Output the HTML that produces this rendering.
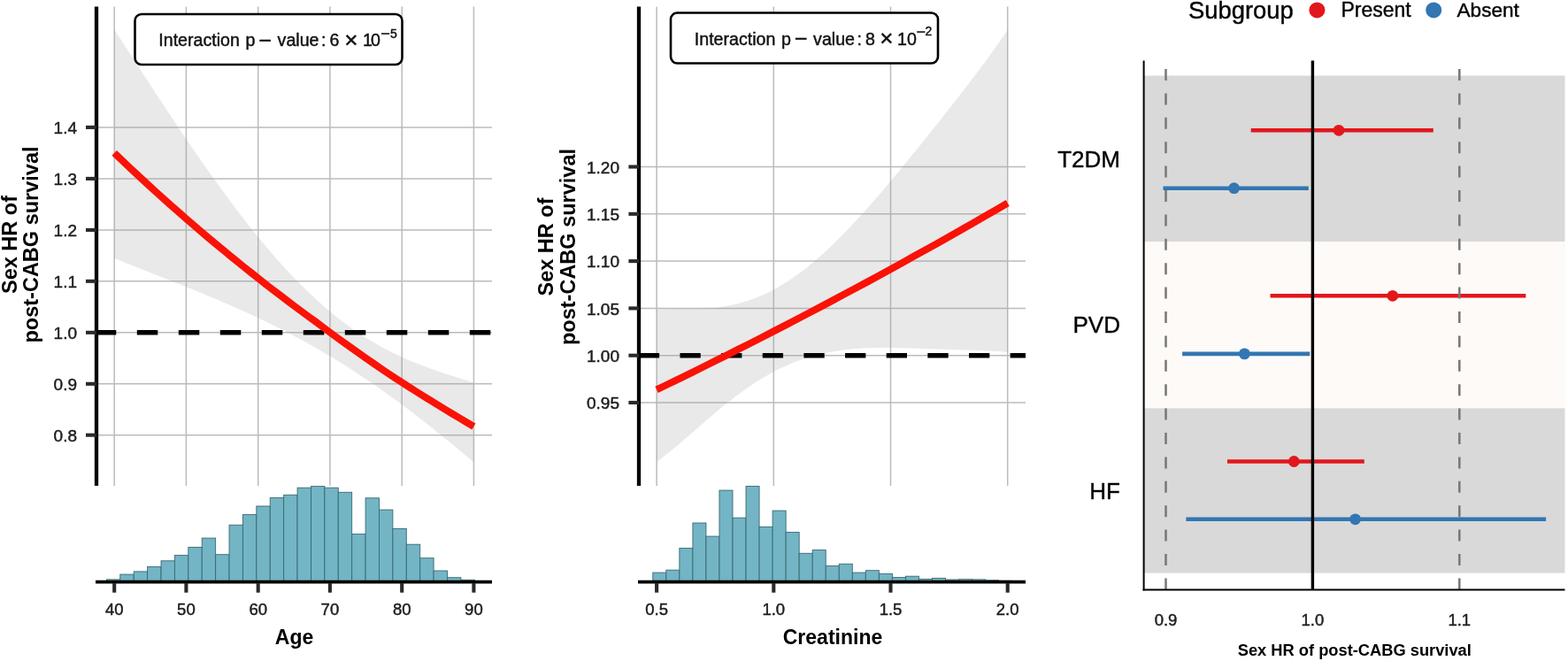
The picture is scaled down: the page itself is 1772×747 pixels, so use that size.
<!DOCTYPE html>
<html><head><meta charset="utf-8"><title>Sex HR of post-CABG survival</title>
<style>html,body{margin:0;padding:0;background:#fff;} svg{display:block;} svg text:not([font-weight]){stroke:#141414;stroke-width:0.45px;stroke-linejoin:round;}</style></head>
<body><svg width="1772" height="747" viewBox="0 0 1772 747" style="font-family:'Liberation Sans',Arial,sans-serif">
<rect width="1772" height="747" fill="#fff"/>
<line x1="129.2" y1="7.5" x2="129.2" y2="549" stroke="#BBBBBB" stroke-width="1.5"/>
<line x1="210.4" y1="7.5" x2="210.4" y2="549" stroke="#BBBBBB" stroke-width="1.5"/>
<line x1="291.7" y1="7.5" x2="291.7" y2="549" stroke="#BBBBBB" stroke-width="1.5"/>
<line x1="372.9" y1="7.5" x2="372.9" y2="549" stroke="#BBBBBB" stroke-width="1.5"/>
<line x1="454.2" y1="7.5" x2="454.2" y2="549" stroke="#BBBBBB" stroke-width="1.5"/>
<line x1="535.4" y1="7.5" x2="535.4" y2="549" stroke="#BBBBBB" stroke-width="1.5"/>
<line x1="109" y1="491.7" x2="556" y2="491.7" stroke="#BBBBBB" stroke-width="1.5"/>
<line x1="109" y1="433.8" x2="556" y2="433.8" stroke="#BBBBBB" stroke-width="1.5"/>
<line x1="109" y1="375.8" x2="556" y2="375.8" stroke="#BBBBBB" stroke-width="1.5"/>
<line x1="109" y1="317.8" x2="556" y2="317.8" stroke="#BBBBBB" stroke-width="1.5"/>
<line x1="109" y1="259.9" x2="556" y2="259.9" stroke="#BBBBBB" stroke-width="1.5"/>
<line x1="109" y1="201.9" x2="556" y2="201.9" stroke="#BBBBBB" stroke-width="1.5"/>
<line x1="109" y1="143.9" x2="556" y2="143.9" stroke="#BBBBBB" stroke-width="1.5"/>
<path d="M129.2,33.3 L132.2,37.9 L135.2,42.6 L138.2,47.2 L141.2,51.9 L144.2,56.6 L147.3,61.2 L150.3,65.8 L153.3,70.5 L156.3,75.1 L159.3,79.8 L162.3,84.4 L165.3,89.0 L168.3,93.6 L171.3,98.2 L174.3,102.8 L177.3,107.4 L180.4,112.0 L183.4,116.6 L186.4,121.1 L189.4,125.7 L192.4,130.2 L195.4,134.7 L198.4,139.2 L201.4,143.7 L204.4,148.2 L207.4,152.7 L210.4,157.1 L213.4,161.5 L216.5,165.9 L219.5,170.3 L222.5,174.7 L225.5,179.0 L228.5,183.4 L231.5,187.7 L234.5,192.0 L237.5,196.2 L240.5,200.4 L243.5,204.6 L246.5,208.8 L249.6,213.0 L252.6,217.1 L255.6,221.2 L258.6,225.3 L261.6,229.3 L264.6,233.3 L267.6,237.3 L270.6,241.2 L273.6,245.1 L276.6,249.0 L279.6,252.8 L282.7,256.7 L285.7,260.4 L288.7,264.2 L291.7,267.9 L294.7,271.5 L297.7,275.1 L300.7,278.7 L303.7,282.3 L306.7,285.8 L309.7,289.3 L312.7,292.7 L315.8,296.1 L318.8,299.4 L321.8,302.7 L324.8,306.0 L327.8,309.2 L330.8,312.4 L333.8,315.5 L336.8,318.6 L339.8,321.6 L342.8,324.6 L345.8,327.6 L348.8,330.5 L351.9,333.3 L354.9,336.1 L357.9,338.9 L360.9,341.6 L363.9,344.3 L366.9,346.9 L369.9,349.5 L372.9,352.0 L375.9,354.5 L378.9,357.0 L381.9,359.4 L385.0,361.7 L388.0,364.0 L391.0,366.3 L394.0,368.5 L397.0,370.6 L400.0,372.8 L403.0,374.8 L406.0,376.9 L409.0,378.8 L412.0,380.8 L415.0,382.7 L418.1,384.5 L421.1,386.3 L424.1,388.1 L427.1,389.8 L430.1,391.5 L433.1,393.1 L436.1,394.7 L439.1,396.3 L442.1,397.8 L445.1,399.3 L448.1,400.8 L451.2,402.2 L454.2,403.6 L457.2,404.9 L460.2,406.2 L463.2,407.5 L466.2,408.8 L469.2,410.0 L472.2,411.2 L475.2,412.3 L478.2,413.5 L481.2,414.6 L484.2,415.7 L487.3,416.8 L490.3,417.8 L493.3,418.9 L496.3,419.9 L499.3,420.9 L502.3,421.9 L505.3,422.9 L508.3,423.8 L511.3,424.8 L514.3,425.8 L517.3,426.7 L520.4,427.7 L523.4,428.7 L526.4,429.6 L529.4,430.6 L532.4,431.6 L535.4,432.5 L535.4,522.3 L532.4,519.7 L529.4,517.2 L526.4,514.7 L523.4,512.2 L520.4,509.7 L517.3,507.2 L514.3,504.7 L511.3,502.2 L508.3,499.8 L505.3,497.3 L502.3,494.9 L499.3,492.4 L496.3,490.0 L493.3,487.6 L490.3,485.2 L487.3,482.8 L484.2,480.4 L481.2,478.0 L478.2,475.7 L475.2,473.3 L472.2,471.0 L469.2,468.7 L466.2,466.3 L463.2,464.1 L460.2,461.8 L457.2,459.5 L454.2,457.3 L451.2,455.0 L448.1,452.8 L445.1,450.6 L442.1,448.4 L439.1,446.2 L436.1,444.1 L433.1,441.9 L430.1,439.8 L427.1,437.7 L424.1,435.6 L421.1,433.5 L418.1,431.5 L415.0,429.4 L412.0,427.4 L409.0,425.4 L406.0,423.4 L403.0,421.4 L400.0,419.4 L397.0,417.5 L394.0,415.6 L391.0,413.7 L388.0,411.8 L385.0,409.9 L381.9,408.0 L378.9,406.2 L375.9,404.3 L372.9,402.5 L369.9,400.7 L366.9,398.9 L363.9,397.2 L360.9,395.4 L357.9,393.7 L354.9,392.0 L351.9,390.3 L348.8,388.6 L345.8,386.9 L342.8,385.3 L339.8,383.6 L336.8,382.0 L333.8,380.4 L330.8,378.8 L327.8,377.2 L324.8,375.6 L321.8,374.1 L318.8,372.5 L315.8,371.0 L312.7,369.5 L309.7,368.0 L306.7,366.5 L303.7,365.0 L300.7,363.6 L297.7,362.1 L294.7,360.7 L291.7,359.3 L288.7,357.8 L285.7,356.4 L282.7,355.0 L279.6,353.7 L276.6,352.3 L273.6,350.9 L270.6,349.6 L267.6,348.2 L264.6,346.9 L261.6,345.6 L258.6,344.3 L255.6,343.0 L252.6,341.7 L249.6,340.4 L246.5,339.1 L243.5,337.8 L240.5,336.6 L237.5,335.3 L234.5,334.0 L231.5,332.8 L228.5,331.6 L225.5,330.3 L222.5,329.1 L219.5,327.9 L216.5,326.6 L213.4,325.4 L210.4,324.2 L207.4,323.0 L204.4,321.8 L201.4,320.6 L198.4,319.4 L195.4,318.2 L192.4,317.0 L189.4,315.8 L186.4,314.6 L183.4,313.4 L180.4,312.2 L177.3,311.0 L174.3,309.9 L171.3,308.7 L168.3,307.5 L165.3,306.3 L162.3,305.1 L159.3,303.9 L156.3,302.7 L153.3,301.5 L150.3,300.3 L147.3,299.1 L144.2,297.9 L141.2,296.7 L138.2,295.5 L135.2,294.2 L132.2,293.0 L129.2,291.8 Z" fill="#9a9a9a" fill-opacity="0.22"/>
<line x1="107.8" y1="375.8" x2="556" y2="375.8" stroke="#000" stroke-width="5.5" stroke-dasharray="23.5 23.5"/>
<polyline points="129.2,172.9 137.3,180.7 145.4,188.4 153.6,196.0 161.7,203.5 169.8,211.0 177.9,218.4 186.1,225.7 194.2,232.9 202.3,240.1 210.4,247.2 218.6,254.2 226.7,261.2 234.8,268.1 242.9,274.9 251.1,281.6 259.2,288.3 267.3,294.9 275.4,301.5 283.6,308.0 291.7,314.4 299.8,320.8 307.9,327.1 316.1,333.3 324.2,339.5 332.3,345.6 340.4,351.6 348.5,357.6 356.7,363.6 364.8,369.6 372.9,375.6 381.0,381.6 389.2,387.4 397.3,393.3 405.4,399.0 413.5,404.7 421.7,410.4 429.8,416.0 437.9,421.5 446.0,426.9 454.2,432.1 462.3,437.3 470.4,442.5 478.5,447.6 486.7,452.7 494.8,457.7 502.9,462.6 511.0,467.5 519.2,472.4 527.3,477.2 535.4,482.0" fill="none" stroke="#FA1206" stroke-width="8"/>
<line x1="109.0" y1="7.5" x2="109.0" y2="549" stroke="#000" stroke-width="4.3"/>
<line x1="97" y1="491.7" x2="109.0" y2="491.7" stroke="#2A2A2A" stroke-width="4.1"/>
<text x="87" y="498.8" text-anchor="end" font-size="19" fill="#1E1E1E">0.8</text>
<line x1="97" y1="433.8" x2="109.0" y2="433.8" stroke="#2A2A2A" stroke-width="4.1"/>
<text x="87" y="440.9" text-anchor="end" font-size="19" fill="#1E1E1E">0.9</text>
<line x1="97" y1="375.8" x2="109.0" y2="375.8" stroke="#2A2A2A" stroke-width="4.1"/>
<text x="87" y="382.9" text-anchor="end" font-size="19" fill="#1E1E1E">1.0</text>
<line x1="97" y1="317.8" x2="109.0" y2="317.8" stroke="#2A2A2A" stroke-width="4.1"/>
<text x="87" y="324.9" text-anchor="end" font-size="19" fill="#1E1E1E">1.1</text>
<line x1="97" y1="259.9" x2="109.0" y2="259.9" stroke="#2A2A2A" stroke-width="4.1"/>
<text x="87" y="267.0" text-anchor="end" font-size="19" fill="#1E1E1E">1.2</text>
<line x1="97" y1="201.9" x2="109.0" y2="201.9" stroke="#2A2A2A" stroke-width="4.1"/>
<text x="87" y="209.0" text-anchor="end" font-size="19" fill="#1E1E1E">1.3</text>
<line x1="97" y1="143.9" x2="109.0" y2="143.9" stroke="#2A2A2A" stroke-width="4.1"/>
<text x="87" y="151.0" text-anchor="end" font-size="19" fill="#1E1E1E">1.4</text>
<rect x="152.5" y="16" width="302" height="57" rx="7.5" ry="7.5" fill="#fff" stroke="#000" stroke-width="2.6"/>
<text x="179.3" y="52.0" font-size="19.6" fill="#111">Interaction</text>
<text x="277.4" y="52.0" font-size="19.6" fill="#111">p</text>
<text x="292.5" y="53.6" font-size="25" fill="#111">−</text>
<text x="313.6" y="52.0" font-size="19.6" fill="#111">value</text>
<text x="363.0" y="52.0" font-size="19.6" fill="#111">:</text>
<text x="372.4" y="52.0" font-size="19.6" fill="#111">6</text>
<text x="389.2" y="53.6" font-size="26" fill="#111">×</text>
<text x="410.0" y="52.0" font-size="19.6" fill="#111">1</text>
<text x="419.0" y="52.0" font-size="19.6" fill="#111">0</text>
<text x="430.2" y="44.0" font-size="18" fill="#111">−</text>
<text x="441.0" y="42.6" font-size="14" fill="#111">5</text>
<rect x="120.40" y="654.9" width="15.40" height="3.1" fill="#73B5C5" stroke="#3A6873" stroke-width="0.9"/>
<rect x="135.80" y="649.1" width="15.40" height="8.9" fill="#73B5C5" stroke="#3A6873" stroke-width="0.9"/>
<rect x="151.21" y="645.9" width="15.40" height="12.1" fill="#73B5C5" stroke="#3A6873" stroke-width="0.9"/>
<rect x="166.61" y="640.5" width="15.40" height="17.5" fill="#73B5C5" stroke="#3A6873" stroke-width="0.9"/>
<rect x="182.02" y="633.8" width="15.40" height="24.2" fill="#73B5C5" stroke="#3A6873" stroke-width="0.9"/>
<rect x="197.42" y="627.6" width="15.40" height="30.4" fill="#73B5C5" stroke="#3A6873" stroke-width="0.9"/>
<rect x="212.82" y="618.4" width="15.40" height="39.6" fill="#73B5C5" stroke="#3A6873" stroke-width="0.9"/>
<rect x="228.23" y="608.1" width="15.40" height="49.9" fill="#73B5C5" stroke="#3A6873" stroke-width="0.9"/>
<rect x="243.63" y="626.7" width="15.40" height="31.3" fill="#73B5C5" stroke="#3A6873" stroke-width="0.9"/>
<rect x="259.04" y="593.3" width="15.40" height="64.7" fill="#73B5C5" stroke="#3A6873" stroke-width="0.9"/>
<rect x="274.44" y="581.6" width="15.40" height="76.4" fill="#73B5C5" stroke="#3A6873" stroke-width="0.9"/>
<rect x="289.84" y="572.0" width="15.40" height="86.0" fill="#73B5C5" stroke="#3A6873" stroke-width="0.9"/>
<rect x="305.25" y="562.6" width="15.40" height="95.4" fill="#73B5C5" stroke="#3A6873" stroke-width="0.9"/>
<rect x="320.65" y="559.3" width="15.40" height="98.7" fill="#73B5C5" stroke="#3A6873" stroke-width="0.9"/>
<rect x="336.06" y="551.2" width="15.40" height="106.8" fill="#73B5C5" stroke="#3A6873" stroke-width="0.9"/>
<rect x="351.46" y="549.6" width="15.40" height="108.4" fill="#73B5C5" stroke="#3A6873" stroke-width="0.9"/>
<rect x="366.86" y="551.2" width="15.40" height="106.8" fill="#73B5C5" stroke="#3A6873" stroke-width="0.9"/>
<rect x="382.27" y="556.3" width="15.40" height="101.7" fill="#73B5C5" stroke="#3A6873" stroke-width="0.9"/>
<rect x="397.67" y="603.6" width="15.40" height="54.4" fill="#73B5C5" stroke="#3A6873" stroke-width="0.9"/>
<rect x="413.08" y="562.8" width="15.40" height="95.2" fill="#73B5C5" stroke="#3A6873" stroke-width="0.9"/>
<rect x="428.48" y="576.1" width="15.40" height="81.9" fill="#73B5C5" stroke="#3A6873" stroke-width="0.9"/>
<rect x="443.88" y="597.5" width="15.40" height="60.5" fill="#73B5C5" stroke="#3A6873" stroke-width="0.9"/>
<rect x="459.29" y="615.2" width="15.40" height="42.8" fill="#73B5C5" stroke="#3A6873" stroke-width="0.9"/>
<rect x="474.69" y="630.7" width="15.40" height="27.3" fill="#73B5C5" stroke="#3A6873" stroke-width="0.9"/>
<rect x="490.10" y="645.0" width="15.40" height="13.0" fill="#73B5C5" stroke="#3A6873" stroke-width="0.9"/>
<rect x="505.50" y="652.7" width="15.40" height="5.3" fill="#73B5C5" stroke="#3A6873" stroke-width="0.9"/>
<rect x="520.90" y="655.3" width="15.40" height="2.7" fill="#73B5C5" stroke="#3A6873" stroke-width="0.9"/>
<line x1="108.0" y1="657.7" x2="556" y2="657.7" stroke="#000" stroke-width="3.8"/>
<line x1="129.2" y1="659" x2="129.2" y2="669.7" stroke="#2A2A2A" stroke-width="4.1"/>
<text x="129.2" y="695" text-anchor="middle" font-size="18.5" fill="#1E1E1E">40</text>
<line x1="210.4" y1="659" x2="210.4" y2="669.7" stroke="#2A2A2A" stroke-width="4.1"/>
<text x="210.4" y="695" text-anchor="middle" font-size="18.5" fill="#1E1E1E">50</text>
<line x1="291.7" y1="659" x2="291.7" y2="669.7" stroke="#2A2A2A" stroke-width="4.1"/>
<text x="291.7" y="695" text-anchor="middle" font-size="18.5" fill="#1E1E1E">60</text>
<line x1="372.9" y1="659" x2="372.9" y2="669.7" stroke="#2A2A2A" stroke-width="4.1"/>
<text x="372.9" y="695" text-anchor="middle" font-size="18.5" fill="#1E1E1E">70</text>
<line x1="454.2" y1="659" x2="454.2" y2="669.7" stroke="#2A2A2A" stroke-width="4.1"/>
<text x="454.2" y="695" text-anchor="middle" font-size="18.5" fill="#1E1E1E">80</text>
<line x1="535.4" y1="659" x2="535.4" y2="669.7" stroke="#2A2A2A" stroke-width="4.1"/>
<text x="535.4" y="695" text-anchor="middle" font-size="18.5" fill="#1E1E1E">90</text>
<text x="332.5" y="727.5" text-anchor="middle" font-size="23" font-weight="bold" fill="#000">Age</text>
<text transform="translate(19,276.5) rotate(-90)" text-anchor="middle" font-size="23.5" font-weight="bold" fill="#000">Sex HR of</text>
<text transform="translate(43,276.5) rotate(-90)" text-anchor="middle" font-size="23.5" font-weight="bold" fill="#000">post-CABG survival</text>
<line x1="742.1" y1="7.4" x2="742.1" y2="549" stroke="#BBBBBB" stroke-width="1.5"/>
<line x1="874.3" y1="7.4" x2="874.3" y2="549" stroke="#BBBBBB" stroke-width="1.5"/>
<line x1="1006.5" y1="7.4" x2="1006.5" y2="549" stroke="#BBBBBB" stroke-width="1.5"/>
<line x1="1138.7" y1="7.4" x2="1138.7" y2="549" stroke="#BBBBBB" stroke-width="1.5"/>
<line x1="722" y1="455.0" x2="1159" y2="455.0" stroke="#BBBBBB" stroke-width="1.5"/>
<line x1="722" y1="401.7" x2="1159" y2="401.7" stroke="#BBBBBB" stroke-width="1.5"/>
<line x1="722" y1="348.4" x2="1159" y2="348.4" stroke="#BBBBBB" stroke-width="1.5"/>
<line x1="722" y1="295.1" x2="1159" y2="295.1" stroke="#BBBBBB" stroke-width="1.5"/>
<line x1="722" y1="241.8" x2="1159" y2="241.8" stroke="#BBBBBB" stroke-width="1.5"/>
<line x1="722" y1="188.5" x2="1159" y2="188.5" stroke="#BBBBBB" stroke-width="1.5"/>
<path d="M742.1,349.8 L745.1,349.6 L748.1,349.4 L751.1,349.3 L754.1,349.2 L757.1,349.2 L760.1,349.1 L763.1,349.1 L766.1,349.1 L769.1,349.1 L772.1,349.1 L775.1,349.1 L778.2,349.1 L781.2,349.1 L784.2,349.0 L787.2,348.9 L790.2,348.9 L793.2,348.7 L796.2,348.6 L799.2,348.4 L802.2,348.2 L805.2,348.0 L808.2,347.7 L811.2,347.3 L814.2,347.0 L817.2,346.5 L820.2,346.0 L823.2,345.5 L826.2,344.9 L829.2,344.3 L832.2,343.6 L835.2,342.8 L838.2,342.0 L841.2,341.1 L844.3,340.2 L847.3,339.2 L850.3,338.1 L853.3,337.0 L856.3,335.8 L859.3,334.6 L862.3,333.2 L865.3,331.9 L868.3,330.4 L871.3,328.9 L874.3,327.3 L877.3,325.7 L880.3,323.9 L883.3,322.2 L886.3,320.3 L889.3,318.4 L892.3,316.5 L895.3,314.4 L898.3,312.3 L901.3,310.2 L904.3,308.0 L907.4,305.7 L910.4,303.4 L913.4,301.0 L916.4,298.5 L919.4,296.0 L922.4,293.4 L925.4,290.8 L928.4,288.2 L931.4,285.5 L934.4,282.7 L937.4,279.9 L940.4,277.0 L943.4,274.1 L946.4,271.1 L949.4,268.1 L952.4,265.1 L955.4,262.0 L958.4,258.9 L961.4,255.7 L964.4,252.5 L967.4,249.3 L970.4,246.1 L973.5,242.8 L976.5,239.4 L979.5,236.1 L982.5,232.7 L985.5,229.3 L988.5,225.8 L991.5,222.4 L994.5,218.9 L997.5,215.4 L1000.5,211.8 L1003.5,208.3 L1006.5,204.7 L1009.5,201.1 L1012.5,197.5 L1015.5,193.9 L1018.5,190.3 L1021.5,186.6 L1024.5,182.9 L1027.5,179.3 L1030.5,175.6 L1033.5,171.9 L1036.5,168.2 L1039.6,164.5 L1042.6,160.7 L1045.6,157.0 L1048.6,153.2 L1051.6,149.5 L1054.6,145.7 L1057.6,142.0 L1060.6,138.2 L1063.6,134.4 L1066.6,130.6 L1069.6,126.8 L1072.6,123.0 L1075.6,119.1 L1078.6,115.3 L1081.6,111.4 L1084.6,107.6 L1087.6,103.7 L1090.6,99.8 L1093.6,95.9 L1096.6,91.9 L1099.6,88.0 L1102.6,84.0 L1105.7,80.0 L1108.7,76.0 L1111.7,71.9 L1114.7,67.9 L1117.7,63.8 L1120.7,59.6 L1123.7,55.4 L1126.7,51.2 L1129.7,47.0 L1132.7,42.6 L1135.7,38.3 L1138.7,33.9 L1138.7,397.9 L1135.7,397.7 L1132.7,397.4 L1129.7,397.2 L1126.7,397.0 L1123.7,396.9 L1120.7,396.7 L1117.7,396.6 L1114.7,396.4 L1111.7,396.3 L1108.7,396.2 L1105.7,396.1 L1102.6,396.0 L1099.6,395.9 L1096.6,395.8 L1093.6,395.7 L1090.6,395.6 L1087.6,395.5 L1084.6,395.4 L1081.6,395.3 L1078.6,395.2 L1075.6,395.1 L1072.6,395.0 L1069.6,394.9 L1066.6,394.8 L1063.6,394.7 L1060.6,394.6 L1057.6,394.5 L1054.6,394.4 L1051.6,394.3 L1048.6,394.2 L1045.6,394.1 L1042.6,394.0 L1039.6,393.9 L1036.5,393.8 L1033.5,393.7 L1030.5,393.6 L1027.5,393.5 L1024.5,393.4 L1021.5,393.3 L1018.5,393.3 L1015.5,393.2 L1012.5,393.1 L1009.5,393.1 L1006.5,393.1 L1003.5,393.0 L1000.5,393.0 L997.5,393.0 L994.5,393.0 L991.5,393.1 L988.5,393.1 L985.5,393.2 L982.5,393.3 L979.5,393.4 L976.5,393.5 L973.5,393.7 L970.4,393.9 L967.4,394.1 L964.4,394.3 L961.4,394.6 L958.4,394.9 L955.4,395.2 L952.4,395.6 L949.4,396.0 L946.4,396.4 L943.4,396.9 L940.4,397.4 L937.4,397.9 L934.4,398.5 L931.4,399.2 L928.4,399.8 L925.4,400.6 L922.4,401.3 L919.4,402.1 L916.4,403.0 L913.4,403.9 L910.4,404.8 L907.4,405.8 L904.3,406.9 L901.3,408.0 L898.3,409.1 L895.3,410.3 L892.3,411.6 L889.3,412.9 L886.3,414.2 L883.3,415.6 L880.3,417.1 L877.3,418.6 L874.3,420.1 L871.3,421.8 L868.3,423.4 L865.3,425.2 L862.3,426.9 L859.3,428.7 L856.3,430.6 L853.3,432.5 L850.3,434.5 L847.3,436.5 L844.3,438.6 L841.2,440.7 L838.2,442.9 L835.2,445.1 L832.2,447.3 L829.2,449.6 L826.2,451.9 L823.2,454.3 L820.2,456.7 L817.2,459.1 L814.2,461.6 L811.2,464.1 L808.2,466.6 L805.2,469.2 L802.2,471.7 L799.2,474.3 L796.2,476.9 L793.2,479.5 L790.2,482.1 L787.2,484.8 L784.2,487.4 L781.2,490.0 L778.2,492.6 L775.1,495.2 L772.1,497.8 L769.1,500.4 L766.1,502.9 L763.1,505.5 L760.1,507.9 L757.1,510.4 L754.1,512.8 L751.1,515.1 L748.1,517.4 L745.1,519.7 L742.1,521.8 Z" fill="#9a9a9a" fill-opacity="0.22"/>
<line x1="721.8" y1="401.7" x2="1159" y2="401.7" stroke="#000" stroke-width="5.5" stroke-dasharray="23.3 23.35"/>
<polyline points="742.1,440.4 755.3,434.0 768.5,427.6 781.8,421.1 795.0,414.5 808.2,407.9 821.4,401.3 834.6,394.7 847.9,388.0 861.1,381.2 874.3,374.4 887.5,367.6 900.7,360.7 914.0,353.8 927.2,346.9 940.4,339.9 953.6,332.8 966.8,325.7 980.1,318.6 993.3,311.4 1006.5,304.2 1019.7,297.0 1032.9,289.6 1046.2,282.3 1059.4,274.9 1072.6,267.4 1085.8,259.9 1099.0,252.4 1112.3,244.8 1125.5,237.2 1138.7,229.5" fill="none" stroke="#FA1206" stroke-width="8"/>
<line x1="722.0" y1="7.4" x2="722.0" y2="549" stroke="#000" stroke-width="4.3"/>
<line x1="710.4" y1="455.0" x2="722.0" y2="455.0" stroke="#2A2A2A" stroke-width="4.1"/>
<text x="700" y="462.1" text-anchor="end" font-size="19" fill="#1E1E1E">0.95</text>
<line x1="710.4" y1="401.7" x2="722.0" y2="401.7" stroke="#2A2A2A" stroke-width="4.1"/>
<text x="700" y="408.8" text-anchor="end" font-size="19" fill="#1E1E1E">1.00</text>
<line x1="710.4" y1="348.4" x2="722.0" y2="348.4" stroke="#2A2A2A" stroke-width="4.1"/>
<text x="700" y="355.5" text-anchor="end" font-size="19" fill="#1E1E1E">1.05</text>
<line x1="710.4" y1="295.1" x2="722.0" y2="295.1" stroke="#2A2A2A" stroke-width="4.1"/>
<text x="700" y="302.2" text-anchor="end" font-size="19" fill="#1E1E1E">1.10</text>
<line x1="710.4" y1="241.8" x2="722.0" y2="241.8" stroke="#2A2A2A" stroke-width="4.1"/>
<text x="700" y="248.9" text-anchor="end" font-size="19" fill="#1E1E1E">1.15</text>
<line x1="710.4" y1="188.5" x2="722.0" y2="188.5" stroke="#2A2A2A" stroke-width="4.1"/>
<text x="700" y="195.6" text-anchor="end" font-size="19" fill="#1E1E1E">1.20</text>
<rect x="758" y="14.5" width="302" height="57" rx="7.5" ry="7.5" fill="#fff" stroke="#000" stroke-width="2.6"/>
<text x="784.8" y="50.8" font-size="19.6" fill="#111">Interaction</text>
<text x="882.9" y="50.8" font-size="19.6" fill="#111">p</text>
<text x="898.0" y="52.4" font-size="25" fill="#111">−</text>
<text x="919.1" y="50.8" font-size="19.6" fill="#111">value</text>
<text x="968.5" y="50.8" font-size="19.6" fill="#111">:</text>
<text x="978.0" y="50.8" font-size="19.6" fill="#111">8</text>
<text x="994.3" y="52.4" font-size="26" fill="#111">×</text>
<text x="1014.0" y="50.8" font-size="19.6" fill="#111">1</text>
<text x="1025.0" y="50.8" font-size="19.6" fill="#111">0</text>
<text x="1035.6" y="42.1" font-size="18" fill="#111">−</text>
<text x="1045.6" y="39.8" font-size="14" fill="#111">2</text>
<rect x="737.80" y="647.1" width="15.03" height="10.9" fill="#73B5C5" stroke="#3A6873" stroke-width="0.9"/>
<rect x="752.83" y="644.2" width="15.03" height="13.8" fill="#73B5C5" stroke="#3A6873" stroke-width="0.9"/>
<rect x="767.87" y="619.5" width="15.03" height="38.5" fill="#73B5C5" stroke="#3A6873" stroke-width="0.9"/>
<rect x="782.90" y="591.0" width="15.03" height="67.0" fill="#73B5C5" stroke="#3A6873" stroke-width="0.9"/>
<rect x="797.93" y="606.1" width="15.03" height="51.9" fill="#73B5C5" stroke="#3A6873" stroke-width="0.9"/>
<rect x="812.96" y="554.1" width="15.03" height="103.9" fill="#73B5C5" stroke="#3A6873" stroke-width="0.9"/>
<rect x="828.00" y="585.2" width="15.03" height="72.8" fill="#73B5C5" stroke="#3A6873" stroke-width="0.9"/>
<rect x="843.03" y="549.5" width="15.03" height="108.5" fill="#73B5C5" stroke="#3A6873" stroke-width="0.9"/>
<rect x="858.06" y="595.4" width="15.03" height="62.6" fill="#73B5C5" stroke="#3A6873" stroke-width="0.9"/>
<rect x="873.10" y="577.1" width="15.03" height="80.9" fill="#73B5C5" stroke="#3A6873" stroke-width="0.9"/>
<rect x="888.13" y="601.5" width="15.03" height="56.5" fill="#73B5C5" stroke="#3A6873" stroke-width="0.9"/>
<rect x="903.16" y="625.3" width="15.03" height="32.7" fill="#73B5C5" stroke="#3A6873" stroke-width="0.9"/>
<rect x="918.20" y="621.6" width="15.03" height="36.4" fill="#73B5C5" stroke="#3A6873" stroke-width="0.9"/>
<rect x="933.23" y="639.6" width="15.03" height="18.4" fill="#73B5C5" stroke="#3A6873" stroke-width="0.9"/>
<rect x="948.26" y="637.3" width="15.03" height="20.7" fill="#73B5C5" stroke="#3A6873" stroke-width="0.9"/>
<rect x="963.29" y="647.1" width="15.03" height="10.9" fill="#73B5C5" stroke="#3A6873" stroke-width="0.9"/>
<rect x="978.33" y="644.7" width="15.03" height="13.3" fill="#73B5C5" stroke="#3A6873" stroke-width="0.9"/>
<rect x="993.36" y="648.4" width="15.03" height="9.6" fill="#73B5C5" stroke="#3A6873" stroke-width="0.9"/>
<rect x="1008.39" y="652.6" width="15.03" height="5.4" fill="#73B5C5" stroke="#3A6873" stroke-width="0.9"/>
<rect x="1023.43" y="651.2" width="15.03" height="6.8" fill="#73B5C5" stroke="#3A6873" stroke-width="0.9"/>
<rect x="1038.46" y="654.4" width="15.03" height="3.6" fill="#73B5C5" stroke="#3A6873" stroke-width="0.9"/>
<rect x="1053.49" y="653.4" width="15.03" height="4.6" fill="#73B5C5" stroke="#3A6873" stroke-width="0.9"/>
<rect x="1068.53" y="655.0" width="15.03" height="3.0" fill="#73B5C5" stroke="#3A6873" stroke-width="0.9"/>
<rect x="1083.56" y="654.7" width="15.03" height="3.3" fill="#73B5C5" stroke="#3A6873" stroke-width="0.9"/>
<rect x="1098.59" y="654.9" width="15.03" height="3.1" fill="#73B5C5" stroke="#3A6873" stroke-width="0.9"/>
<rect x="1113.62" y="655.8" width="15.03" height="2.2" fill="#73B5C5" stroke="#3A6873" stroke-width="0.9"/>
<rect x="1128.66" y="656.3" width="15.03" height="1.7" fill="#73B5C5" stroke="#3A6873" stroke-width="0.9"/>
<line x1="721.0" y1="657.7" x2="1159" y2="657.7" stroke="#000" stroke-width="3.8"/>
<line x1="742.1" y1="659" x2="742.1" y2="669.7" stroke="#2A2A2A" stroke-width="4.1"/>
<text x="742.1" y="695" text-anchor="middle" font-size="18.5" fill="#1E1E1E">0.5</text>
<line x1="874.3" y1="659" x2="874.3" y2="669.7" stroke="#2A2A2A" stroke-width="4.1"/>
<text x="874.3" y="695" text-anchor="middle" font-size="18.5" fill="#1E1E1E">1.0</text>
<line x1="1006.5" y1="659" x2="1006.5" y2="669.7" stroke="#2A2A2A" stroke-width="4.1"/>
<text x="1006.5" y="695" text-anchor="middle" font-size="18.5" fill="#1E1E1E">1.5</text>
<line x1="1138.7" y1="659" x2="1138.7" y2="669.7" stroke="#2A2A2A" stroke-width="4.1"/>
<text x="1138.7" y="695" text-anchor="middle" font-size="18.5" fill="#1E1E1E">2.0</text>
<text x="941" y="727.5" text-anchor="middle" font-size="23" font-weight="bold" fill="#000">Creatinine</text>
<text transform="translate(625,279) rotate(-90)" text-anchor="middle" font-size="23.5" font-weight="bold" fill="#000">Sex HR of</text>
<text transform="translate(649.5,279) rotate(-90)" text-anchor="middle" font-size="23.5" font-weight="bold" fill="#000">post-CABG survival</text>
<rect x="1292.6" y="85.5" width="475.9" height="187.6" fill="#D9D9D9"/>
<rect x="1292.6" y="273.1" width="475.9" height="188.2" fill="#FDFAF7"/>
<rect x="1292.6" y="461.3" width="475.9" height="186.3" fill="#D9D9D9"/>
<line x1="1413.7" y1="147.3" x2="1619.8" y2="147.3" stroke="#E2171C" stroke-width="4.6"/>
<circle cx="1513.0" cy="147.3" r="6.4" fill="#E2171C"/>
<line x1="1314.5" y1="212.7" x2="1478.8" y2="212.7" stroke="#3276B3" stroke-width="4.6"/>
<circle cx="1394.6" cy="212.7" r="6.4" fill="#3276B3"/>
<line x1="1435.5" y1="334.3" x2="1724.3" y2="334.3" stroke="#E2171C" stroke-width="4.6"/>
<circle cx="1573.8" cy="334.3" r="6.4" fill="#E2171C"/>
<line x1="1336.1" y1="399.9" x2="1480.2" y2="399.9" stroke="#3276B3" stroke-width="4.6"/>
<circle cx="1406.4" cy="399.9" r="6.4" fill="#3276B3"/>
<line x1="1387" y1="521.5" x2="1541.8" y2="521.5" stroke="#E2171C" stroke-width="4.6"/>
<circle cx="1462.3" cy="521.5" r="6.4" fill="#E2171C"/>
<line x1="1340.4" y1="586.8" x2="1747.1" y2="586.8" stroke="#3276B3" stroke-width="4.6"/>
<circle cx="1531.6" cy="586.8" r="6.4" fill="#3276B3"/>
<line x1="1317.5" y1="666.4" x2="1317.5" y2="68.4" stroke="#777" stroke-width="2.5" stroke-dasharray="13 14.4"/>
<line x1="1649.3" y1="666.4" x2="1649.3" y2="68.4" stroke="#777" stroke-width="2.5" stroke-dasharray="13 14.4"/>
<line x1="1483.4" y1="68.4" x2="1483.4" y2="666.4" stroke="#000" stroke-width="3.4"/>
<line x1="1292.6" y1="68.4" x2="1292.6" y2="667.4" stroke="#000" stroke-width="2"/>
<line x1="1291.6" y1="666.4" x2="1768.5" y2="666.4" stroke="#000" stroke-width="2"/>
<text x="1266" y="189.2" text-anchor="end" font-size="26" fill="#000">T2DM</text>
<text x="1266" y="376.3" text-anchor="end" font-size="26" fill="#000">PVD</text>
<text x="1266" y="563.5" text-anchor="end" font-size="26" fill="#000">HF</text>
<text x="1317.5" y="707" text-anchor="middle" font-size="18.5" fill="#222">0.9</text>
<text x="1483.4" y="707" text-anchor="middle" font-size="18.5" fill="#222">1.0</text>
<text x="1649.3" y="707" text-anchor="middle" font-size="18.5" fill="#222">1.1</text>
<text x="1530.8" y="741" text-anchor="middle" font-size="18.3" font-weight="bold" fill="#000">Sex HR of post-CABG survival</text>
<text x="1343" y="21.3" font-size="27.4" fill="#000">Subgroup</text>
<circle cx="1488.4" cy="11.4" r="9" fill="#E2171C"/>
<text x="1515.5" y="19.3" font-size="23" fill="#000">Present</text>
<circle cx="1620.2" cy="11.4" r="9" fill="#3276B3"/>
<text x="1646.5" y="19.3" font-size="22.6" fill="#000">Absent</text>
</svg></body></html>
